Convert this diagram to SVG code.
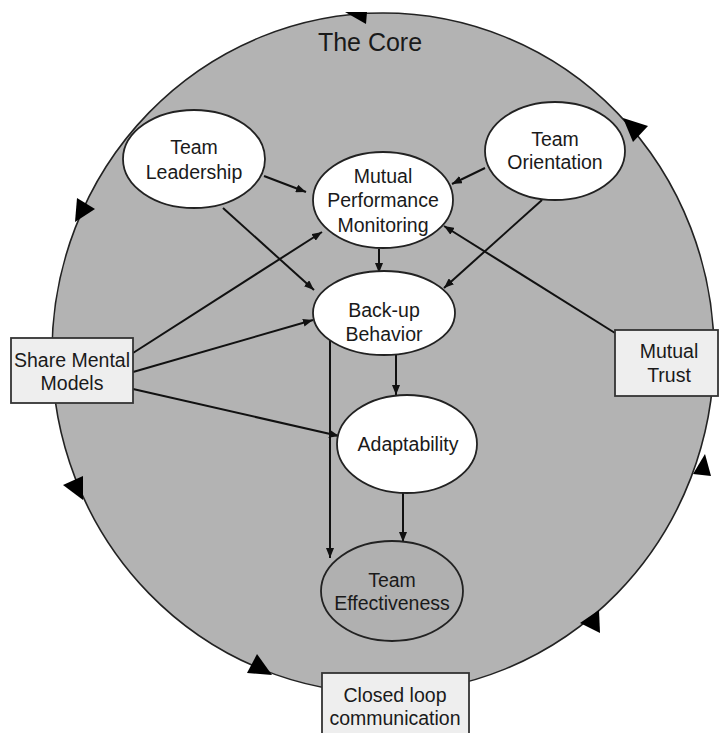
<svg xmlns="http://www.w3.org/2000/svg" width="727" height="733" viewBox="0 0 727 733">
  <style>
    text { font-family: "Liberation Sans", Arial, sans-serif; font-size: 19.5px; fill: #1a1a1a; text-anchor: middle; }
    .core { fill: #b3b3b3; stroke: #222; stroke-width: 1.6; }
    .node { fill: #ffffff; stroke: #222; stroke-width: 1.8; }
    .outcome { fill: #b0b0b0; stroke: #222; stroke-width: 1.8; }
    .box { fill: #eeeeee; stroke: #333; stroke-width: 1.8; }
    .edge { stroke: #111; stroke-width: 2; fill: none; marker-end: url(#arrow); }
    .tick { fill: #000; }
  </style>
  <defs>
    <marker id="arrow" viewBox="0 0 10 8" refX="10" refY="4" markerWidth="10" markerHeight="8" markerUnits="userSpaceOnUse" orient="auto">
      <path d="M0,0 L10,4 L0,8 z" fill="#111"/>
    </marker>
  </defs>

  <rect width="727" height="733" fill="#ffffff"/>

  <!-- the core circle with its flow ticks -->
  <g id="core">
    <ellipse class="core" cx="383" cy="353" rx="331" ry="340"/>
    <polygon class="tick" points="345,12 367,12 366,24"/>
    <polygon class="tick" points="623,118 648,126 633,142"/>
    <polygon class="tick" points="693,474 705,454 711,476"/>
    <polygon class="tick" points="580,623 599,610 600,633"/>
    <polygon class="tick" points="247,673 257,654 272,675"/>
    <polygon class="tick" points="63,485 83,476 83,500"/>
    <polygon class="tick" points="77,198 95,209 75,222"/>
    <text x="370" y="51" style="font-size:25px">The Core</text>
  </g>

  <!-- connectors -->
  <g id="connectors">
    <line class="edge" x1="264" y1="176" x2="306" y2="192"/>
    <line class="edge" x1="223" y1="208" x2="314" y2="290"/>
    <line class="edge" x1="485" y1="168" x2="452" y2="184"/>
    <line class="edge" x1="542" y1="200" x2="444" y2="288"/>
    <line class="edge" x1="615" y1="333" x2="444" y2="226"/>
    <line class="edge" x1="379" y1="249" x2="379" y2="273"/>
    <line class="edge" x1="133" y1="353" x2="322" y2="232"/>
    <line class="edge" x1="133" y1="372" x2="313" y2="320"/>
    <line class="edge" x1="133" y1="389" x2="339" y2="436"/>
    <line class="edge" x1="396" y1="355" x2="396" y2="395"/>
    <line class="edge" x1="330" y1="340" x2="330" y2="558"/>
    <line class="edge" x1="403" y1="493" x2="403" y2="542"/>
  </g>

  <g id="team-leadership">
    <ellipse class="node" cx="194" cy="159" rx="71" ry="49"/>
    <text x="194" y="154">Team</text>
    <text x="194" y="179">Leadership</text>
  </g>

  <g id="team-orientation">
    <ellipse class="node" cx="555" cy="151" rx="70" ry="49"/>
    <text x="555" y="146">Team</text>
    <text x="555" y="169">Orientation</text>
  </g>

  <g id="mutual-performance-monitoring">
    <ellipse class="node" cx="383" cy="200" rx="70" ry="48"/>
    <text x="383" y="183">Mutual</text>
    <text x="383" y="207">Performance</text>
    <text x="383" y="232">Monitoring</text>
  </g>

  <g id="back-up-behavior">
    <ellipse class="node" cx="384" cy="313" rx="71" ry="42"/>
    <text x="384" y="317">Back-up</text>
    <text x="384" y="341">Behavior</text>
  </g>

  <g id="adaptability">
    <ellipse class="node" cx="407" cy="444" rx="70" ry="49"/>
    <text x="408" y="451">Adaptability</text>
  </g>

  <g id="team-effectiveness">
    <ellipse class="outcome" cx="392" cy="591" rx="71" ry="50"/>
    <text x="392" y="587">Team</text>
    <text x="392" y="610">Effectiveness</text>
  </g>

  <g id="share-mental-models">
    <rect class="box" x="11" y="338" width="122" height="65"/>
    <text x="72" y="367">Share Mental</text>
    <text x="72" y="390">Models</text>
  </g>

  <g id="mutual-trust">
    <rect class="box" x="615" y="330" width="103" height="66"/>
    <text x="669" y="358">Mutual</text>
    <text x="669" y="382">Trust</text>
  </g>

  <g id="closed-loop-communication">
    <rect class="box" x="322" y="673" width="147" height="70"/>
    <text x="395" y="702">Closed loop</text>
    <text x="395" y="725">communication</text>
  </g>
</svg>
